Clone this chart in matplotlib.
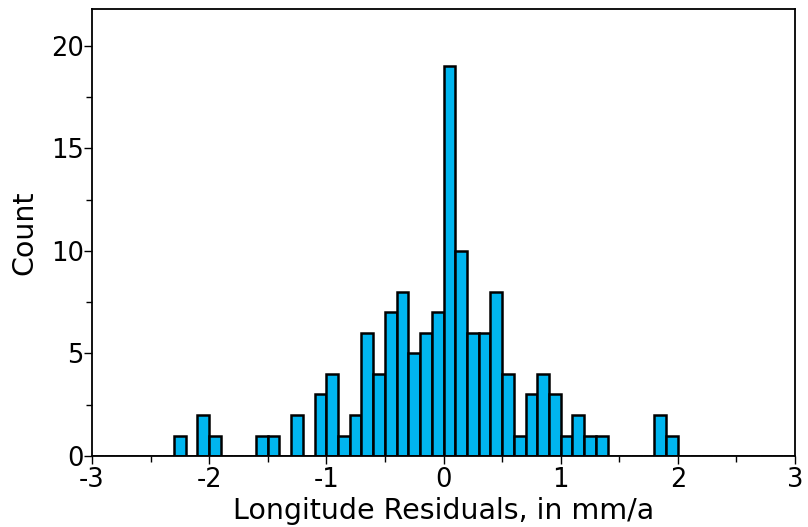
import numpy as np
import matplotlib
matplotlib.use("Agg")
import matplotlib.pyplot as plt
from matplotlib.ticker import MultipleLocator

plt.rcParams['font.family'] = ['DejaVu Sans']
plt.rcParams['axes.unicode_minus'] = False

# histogram bins (width 0.1 mm/a) from -3 to 3
bin_left = np.round(np.arange(-3.0, 3.0, 0.1), 1)
counts = [0, 0, 0, 0, 0, 0, 0,
          1, 0, 2, 1, 0, 0, 0, 1, 1, 0, 2, 0,
          3, 4, 1, 2, 6, 4, 7, 8, 5, 6, 7,
          19, 10, 6, 6, 8, 4, 1, 3, 4, 3,
          1, 2, 1, 1, 0, 0, 0, 0, 2, 1,
          0, 0, 0, 0, 0, 0, 0, 0, 0, 0]

fig = plt.figure(figsize=(8.08, 5.27), dpi=100)
ax = fig.add_axes([0.1139, 0.1347, 0.8700, 0.8482])

ax.bar(bin_left, counts, width=0.1, align='edge', color='#00b5ef',
       edgecolor='black', linewidth=1.8)

ax.set_xlim(-3, 3)
ax.set_ylim(0, 21.8)
ax.xaxis.set_major_locator(MultipleLocator(1))
ax.xaxis.set_minor_locator(MultipleLocator(0.5))
ax.yaxis.set_major_locator(MultipleLocator(5))
ax.yaxis.set_minor_locator(MultipleLocator(2.5))
ax.tick_params(which='major', length=6, width=1, labelsize=18.5)
ax.tick_params(axis='x', which='major', pad=2)
ax.tick_params(axis='y', which='major', pad=0)
ax.tick_params(which='minor', length=4, width=1)
for s in ax.spines.values():
    s.set_linewidth(1.3)

ax.set_xlabel("Longitude Residuals, in mm/a", fontsize=20.5, labelpad=3)
ax.set_ylabel("Count", fontsize=20.5, labelpad=9)

fig.savefig("out.png", dpi=100)
